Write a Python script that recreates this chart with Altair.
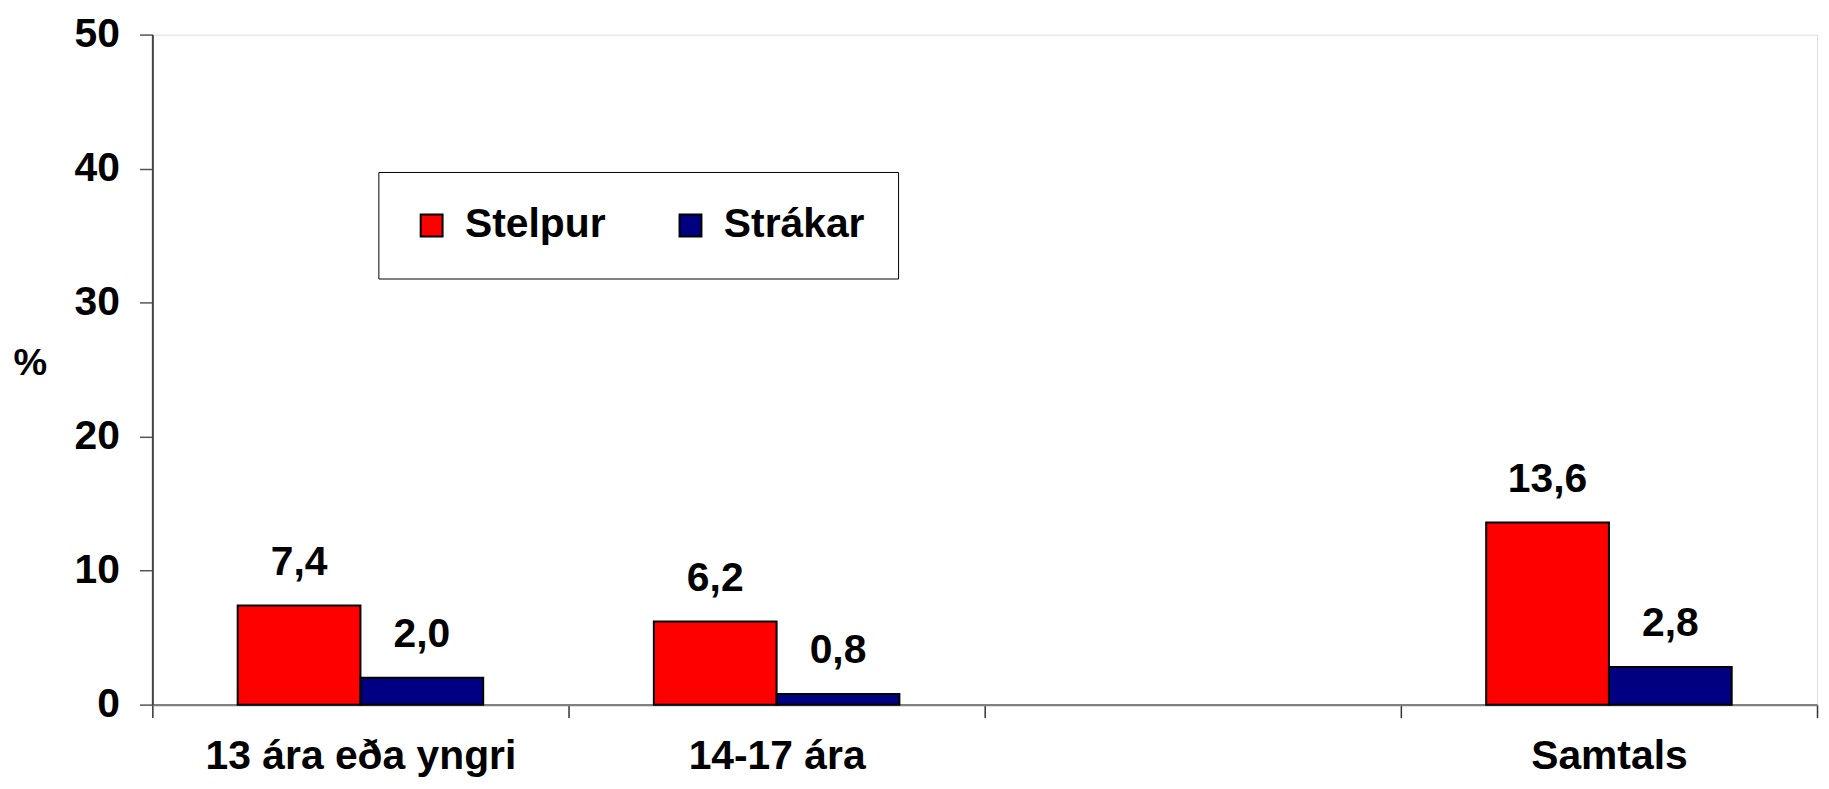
import altair as alt
import pandas as pd

categories = ["13 ára eða yngri", "14-17 ára", " ", "Samtals"]
series = ["Stelpur", "Strákar"]
stelpur = [7.4, 6.2, None, 13.6]
strakar = [2.0, 0.8, None, 2.8]
colors = ["#FF0000", "#000080"]
y_ticks = [0, 10, 20, 30, 40, 50]

rows = []
for cat, s, b in zip(categories, stelpur, strakar):
    for name, v in ((series[0], s), (series[1], b)):
        if v is not None:
            rows.append({"cat": cat, "kyn": name, "val": v,
                         "lab": f"{v:.1f}".replace(".", ",")})
df = pd.DataFrame(rows)

FONT = "Liberation Sans"
FS = 41

x = alt.X("cat:N",
          scale=alt.Scale(domain=categories, paddingInner=0, paddingOuter=0),
          axis=alt.Axis(title=None, labelAngle=0, tickBand="extent", labelLimit=0,
                        domainColor="#808080", domainWidth=2.5,
                        tickColor="#333333", tickWidth=1.5, tickSize=13,
                        labelFont=FONT, labelFontSize=FS, labelFontWeight="bold",
                        labelColor="black", labelPadding=19))
xo = alt.XOffset("kyn:N", scale=alt.Scale(domain=series, paddingInner=0, paddingOuter=0.695))
y = alt.Y("val:Q",
          scale=alt.Scale(domain=[0, 50], nice=False),
          axis=alt.Axis(title="%", values=y_ticks, grid=False,
                        domainColor="#444444", domainWidth=2,
                        tickColor="#555555", tickWidth=1.5, tickSize=13,
                        labelFont=FONT, labelFontSize=FS, labelFontWeight="bold",
                        labelColor="black", labelPadding=20,
                        titleFont=FONT, titleFontSize=38, titleFontWeight="bold",
                        titleColor="black", titleAngle=0, titleAlign="center",
                        titleBaseline="middle", titleX=-123, titleY=330))

color = alt.Color("kyn:N",
                  scale=alt.Scale(domain=series, range=colors),
                  legend=alt.Legend(title=None, orient="none", legendX=227, legendY=138,
                                    direction="horizontal", fillColor="white",
                                    strokeColor="black", padding=33,
                                    symbolType="square", symbolSize=484,
                                    symbolStrokeColor="black", symbolStrokeWidth=2,
                                    symbolOpacity=1,
                                    labelFont=FONT, labelFontSize=FS,
                                    labelFontWeight="bold", labelColor="black",
                                    labelOffset=13, columnPadding=64))

bars = alt.Chart(df).mark_bar(stroke="black", strokeWidth=2, opacity=1).encode(
    x=x, xOffset=xo, y=y, color=color)

labels = alt.Chart(df).mark_text(dy=-31, baseline="alphabetic", font=FONT, fontSize=FS,
                                 fontWeight="bold", color="black").encode(
    x=x, xOffset=xo, y=y, text="lab:N")

chart = alt.layer(bars, labels).properties(
    width=1672, height=673,
    autosize=alt.AutoSizeParams(type="none"),
    padding={"left": 145, "top": 25, "right": 4, "bottom": 75},
).configure_view(stroke="#808080", strokeWidth=3).configure(background="white")

chart.save("out.html", embed_options={"renderer": "svg", "actions": False})
